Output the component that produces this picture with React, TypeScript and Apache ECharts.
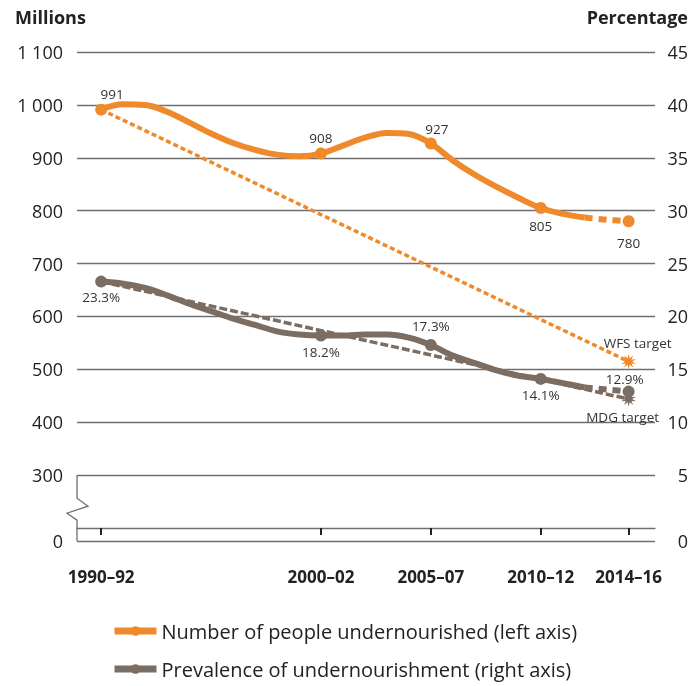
import React, { useEffect, useRef } from "react";
import * as echarts from "echarts";

// ---------- data ----------
const periodYears = [1991, 2001, 2006, 2011, 2015];
const periodLabels = ["1990–92", "2000–02", "2005–07", "2010–12", "2014–16"];

const leftTickValues = [300, 400, 500, 600, 700, 800, 900, 1000, 1100];
const leftTickLabels = ["300", "400", "500", "600", "700", "800", "900", "1 000", "1 100"];
const rightTickValues = [5, 10, 15, 20, 25, 30, 35, 40, 45];
const rightTickLabels = ["5", "10", "15", "20", "25", "30", "35", "40", "45"];

// annual estimates (millions), solid part
const undernourishedYears = [1991, 1992, 1993, 1994, 1995, 1996, 1997, 1998, 1999, 2000, 2001, 2002, 2003, 2004, 2005, 2006, 2007, 2008, 2009, 2010, 2011, 2012, 2013];
const undernourishedValues = [991, 1001, 1000, 987, 967, 946, 928, 915, 906, 903, 908, 923, 938, 947, 945, 927, 895, 868, 845, 824, 805, 794, 787];
// projection part (dashed)
const undernourishedProjYears = [2013, 2014, 2015];
const undernourishedProjValues = [787, 783, 780];

// prevalence (%), solid part
const prevalenceValues = [23.3, 23.1, 22.7, 22.0, 21.2, 20.5, 19.8, 19.2, 18.6, 18.3, 18.2, 18.2, 18.3, 18.3, 18.0, 17.3, 16.3, 15.6, 14.9, 14.4, 14.1, 13.7, 13.3];
const prevalenceProjValues = [13.3, 13.1, 12.9];

// targets
const wfsLine = [991, 515];
const mdgLine = [23.3, 12.2];
const targetYears = [1991, 2015];

const labelledYears = [1991, 2001, 2006, 2011, 2015];

// ---------- styles ----------
const FONT = "'Open Sans', 'Noto Sans', sans-serif";
const ORANGE = "#EF8A2C";
const GRAY = "#7C6D63";
const GRID = "#6f6f6f";
const TEXT = "#222";

const LEFT_MIN = 175.6;
const RIGHT_MIN = 5 - (300 - LEFT_MIN) / 20;

const NAME1 = "Number of people undernourished (left axis)";
const NAME2 = "Prevalence of undernourishment (right axis)";

function starPath(n: number, ro: number, ri: number) {
  const pts: string[] = [];
  for (let i = 0; i < n * 2; i++) {
    const r = i % 2 === 0 ? ro : ri;
    const a = (Math.PI * i) / n - Math.PI / 2;
    pts.push(`${(r * Math.cos(a)).toFixed(2)},${(r * Math.sin(a)).toFixed(2)}`);
  }
  return "path://M" + pts.join("L") + "Z";
}
const STAR = starPath(10, 10, 4.5);

// label placement for markers (style only)
const orangeLabelPos: Record<number, any> = {
  1991: { position: "top", distance: 3, offset: [11, 0] },
  2001: { position: "top", distance: 3, offset: [0, 0] },
  2006: { position: "top", distance: 2, offset: [6, 0] },
  2011: { position: "bottom", distance: 5, offset: [0, 0] },
  2015: { position: "bottom", distance: 9, offset: [0, 0] },
};
const grayLabelPos: Record<number, any> = {
  1991: { position: "bottom", distance: 2, offset: [0, 0] },
  2001: { position: "bottom", distance: 3, offset: [0, 0] },
  2006: { position: "top", distance: 6, offset: [0, 0] },
  2011: { position: "bottom", distance: 3, offset: [0, 0] },
  2015: { position: "top", distance: 0, offset: [-4, 0] },
};

const labelText = { fontFamily: FONT, fontSize: 13.5, color: "#333" };

function buildData(years: number[], values: number[], color: string, pos: Record<number, any>, pct: boolean) {
  return years.map((y, i) => {
    if (labelledYears.indexOf(y) >= 0 && pos[y]) {
      return {
        value: [y, values[i]],
        symbol: "circle",
        symbolSize: 12,
        itemStyle: { color },
        label: {
          show: true,
          ...pos[y],
          ...labelText,
          formatter: (p: any) => (pct ? p.value[1].toFixed(1) + "%" : String(p.value[1])),
        },
      };
    }
    return { value: [y, values[i]], symbol: "none" };
  });
}

export default function App() {
  const ref = useRef<HTMLDivElement>(null);
  useEffect(() => {
    if (!ref.current) return;
    const chart = echarts.init(ref.current, null, { renderer: "svg" });
    const option: any = {
      animation: false,
      textStyle: { fontFamily: FONT },
      grid: { left: 77, right: 37, top: 52, bottom: 145, containLabel: false, outerBoundsMode: "none" },
      legend: {
        data: [NAME1, NAME2],
        orient: "vertical",
        left: 111,
        top: 621,
        itemWidth: 42,
        itemHeight: 12,
        itemGap: 18,
        padding: 0,
        selectedMode: false,
        lineStyle: { width: 7 },
        textStyle: { fontFamily: FONT, fontSize: 20, color: TEXT },
      },
      xAxis: {
        type: "value",
        min: 1989.9,
        max: 2016.2,
        axisLine: { show: true, lineStyle: { color: GRID, width: 1.3 } },
        axisTick: { show: true, customValues: periodYears, length: 7, lineStyle: { color: "#222", width: 2 } },
        axisLabel: {
          customValues: periodYears,
          formatter: (v: number) => {
            const i = periodYears.indexOf(Math.round(v));
            return i >= 0 ? periodLabels[i] : "";
          },
          margin: 27,
          fontFamily: FONT,
          fontSize: 17,
          fontWeight: "bold",
          color: TEXT,
        },
        splitLine: { show: false },
      },
      yAxis: [
        {
          type: "value",
          position: "left",
          min: LEFT_MIN,
          max: 1100,
          axisLine: { show: false },
          axisTick: { show: false, customValues: [LEFT_MIN, ...leftTickValues] },
          axisLabel: {
            customValues: [LEFT_MIN, ...leftTickValues],
            formatter: (v: number) => {
              const i = leftTickValues.indexOf(Math.round(v));
              return i >= 0 ? leftTickLabels[i] : "0";
            },
            margin: 14,
            fontFamily: FONT,
            fontSize: 18,
            color: TEXT,
          },
          splitLine: { show: true, lineStyle: { color: GRID, width: 1.3 } },
        },
        {
          type: "value",
          position: "right",
          min: RIGHT_MIN,
          max: 45,
          axisLine: { show: false },
          axisTick: { show: false, customValues: [RIGHT_MIN, ...rightTickValues] },
          axisLabel: {
            customValues: [RIGHT_MIN, ...rightTickValues],
            formatter: (v: number) => {
              const i = rightTickValues.indexOf(Math.round(v));
              return v > 1 && i >= 0 ? rightTickLabels[i] : "0";
            },
            align: "right",
            margin: 33,
            fontFamily: FONT,
            fontSize: 18,
            color: TEXT,
          },
          splitLine: { show: false },
        },
      ],
      series: [
        {
          type: "line",
          name: "WFS target",
          yAxisIndex: 0,
          symbol: "none",
          lineStyle: { color: ORANGE, width: 3.5, type: [5, 3] },
          itemStyle: { color: ORANGE },
          z: 2,
          data: [
            { value: [targetYears[0], wfsLine[0]], symbol: "none" },
            {
              value: [targetYears[1], wfsLine[1]],
              symbol: STAR,
              symbolSize: 15,
              label: { show: true, position: "top", distance: 4, offset: [9, 0], ...labelText, formatter: "WFS target" },
            },
          ],
        },
        {
          type: "line",
          name: "MDG target",
          yAxisIndex: 1,
          symbol: "none",
          lineStyle: { color: GRAY, width: 3.5, type: [8, 3] },
          itemStyle: { color: GRAY },
          z: 2,
          data: [
            { value: [targetYears[0], mdgLine[0]], symbol: "none" },
            {
              value: [targetYears[1], mdgLine[1]],
              symbol: STAR,
              symbolSize: 15,
              label: { show: true, position: "bottom", distance: 3, offset: [-6, 0], ...labelText, formatter: "MDG target" },
            },
          ],
        },
        {
          type: "line",
          name: NAME1,
          yAxisIndex: 0,
          smooth: 0.35,
          symbol: "none",
          lineStyle: { color: ORANGE, width: 6 },
          itemStyle: { color: ORANGE },
          z: 3,
          data: buildData(undernourishedYears, undernourishedValues, ORANGE, orangeLabelPos, false),
        },
        {
          type: "line",
          name: "proj1",
          yAxisIndex: 0,
          smooth: 0.35,
          symbol: "none",
          lineStyle: { color: ORANGE, width: 6, type: [8, 6] },
          itemStyle: { color: ORANGE },
          z: 3,
          data: buildData(undernourishedProjYears, undernourishedProjValues, ORANGE, { 2015: orangeLabelPos[2015] }, false),
        },
        {
          type: "line",
          name: NAME2,
          yAxisIndex: 1,
          smooth: 0.35,
          symbol: "none",
          lineStyle: { color: GRAY, width: 6 },
          itemStyle: { color: GRAY },
          z: 3,
          data: buildData(undernourishedYears, prevalenceValues, GRAY, grayLabelPos, true),
        },
        {
          type: "line",
          name: "proj2",
          yAxisIndex: 1,
          smooth: 0.35,
          symbol: "none",
          lineStyle: { color: GRAY, width: 6, type: [8, 6] },
          itemStyle: { color: GRAY },
          z: 3,
          data: buildData(undernourishedProjYears, prevalenceProjValues, GRAY, { 2015: grayLabelPos[2015] }, true),
        },
      ],
    };
    chart.setOption(option);

    // axis break on the left axis between 0 and 300
    const x0 = chart.convertToPixel({ xAxisIndex: 0 } as any, 1989.9) as number;
    const y300 = chart.convertToPixel({ yAxisIndex: 0 } as any, 300) as number;
    const y0 = chart.convertToPixel({ yAxisIndex: 0 } as any, LEFT_MIN) as number;
    chart.setOption({
      graphic: [
        {
          type: "polyline",
          shape: {
            points: [
              [x0, y300],
              [x0, y300 + 23],
              [x0 + 11, y300 + 31],
              [x0 - 10, y300 + 38],
              [x0, y300 + 45],
              [x0, y0],
            ],
          },
          style: { stroke: GRID, lineWidth: 1.3, fill: "none" },
          z: 10,
        },
        {
          type: "text",
          left: 15,
          top: 8,
          style: { text: "Millions", fontFamily: FONT, fontSize: 18, fontWeight: "bold", fill: TEXT },
        },
        {
          type: "text",
          right: 4,
          top: 8,
          style: { text: "Percentage", fontFamily: FONT, fontSize: 18, fontWeight: "bold", fill: TEXT },
        },
      ],
    });
    return () => chart.dispose();
  }, []);
  return <div ref={ref} style={{ position: "fixed", left: 0, top: 0, width: 692, height: 686 }} />;
}
